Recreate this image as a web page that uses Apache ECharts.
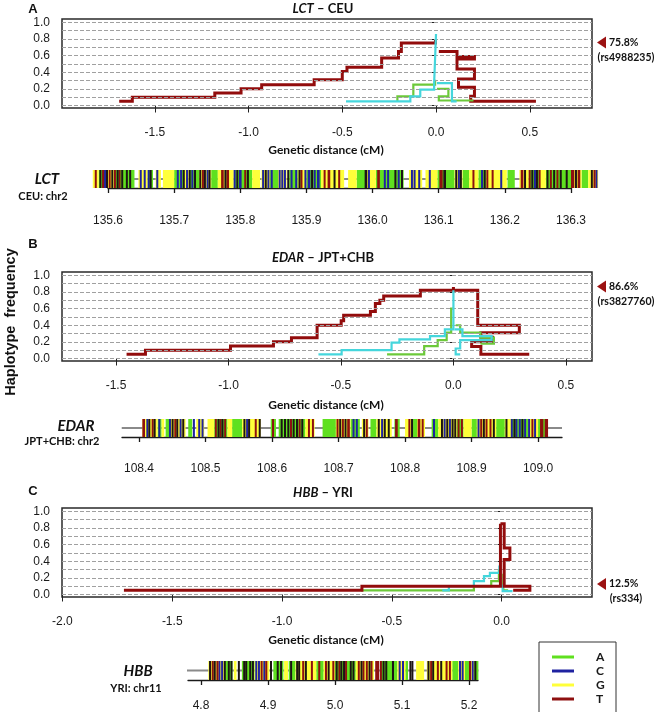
<!DOCTYPE html>
<html><head><meta charset="utf-8">
<script src="https://cdn.jsdelivr.net/npm/echarts@6/dist/echarts.min.js"></script>
<style>html,body{margin:0;padding:0;background:#fff}#c{width:655px;height:712px}</style>
</head><body><div id="c"></div><script>
// ---------- axis ticks ----------
const gridLines = [0,0.1,0.2,0.3,0.4,0.5,0.6,0.7,0.8,0.9,1.0];
const freqTicks = [0,0.2,0.4,0.6,0.8,1.0];
const distTicksA = [-1.5,-1.0,-0.5,0.0,0.5];
const distTicksB = [-1.5,-1.0,-0.5,0.0,0.5];
const distTicksC = [-2.0,-1.5,-1.0,-0.5,0.0];
const posTicksA = [135.6,135.7,135.8,135.9,136.0,136.1,136.2,136.3];
const posTicksB = [108.4,108.5,108.6,108.7,108.8,108.9,109.0];
const posTicksC = [4.8,4.9,5.0,5.1,5.2];

// ---------- panel titles / annotations ----------
const panelLetters = ['A','B','C'];
const geneNames = ['LCT','EDAR','HBB'];
const popNames = ['CEU','JPT+CHB','YRI'];
const chromLabels = ['CEU: chr2','JPT+CHB: chr2','YRI: chr11'];
const coreFreq = [0.758, 0.866, 0.125];
const coreFreqText = ['75.8%','86.6%','12.5%'];
const coreSnp = ['(rs4988235)','(rs3827760)','(rs334)'];
const legendAlleles = ['A','C','G','T'];

// ---------- haplotype frequency step paths (x: cM, y: frequency) ----------
const lctT_left = [[-1.69,0.05],[-1.62,0.05],[-1.62,0.10],[-1.18,0.10],[-1.18,0.15],[-1.04,0.15],[-1.04,0.20],[-0.93,0.20],[-0.93,0.25],[-0.65,0.25],[-0.65,0.31],[-0.50,0.31],[-0.50,0.41],[-0.475,0.41],[-0.475,0.46],[-0.29,0.46],[-0.29,0.57],[-0.20,0.57],[-0.20,0.65],[-0.185,0.65],[-0.185,0.75],[-0.003,0.75],[-0.003,0.79]];
const lctT_right = [[0.015,0.65],[0.112,0.65],[0.112,0.59],[0.205,0.59],[0.205,0.56],[0.112,0.56],[0.112,0.44],[0.205,0.44],[0.205,0.32],[0.12,0.32],[0.12,0.22],[0.205,0.22],[0.205,0.11],[0.185,0.11],[0.185,0.05],[0.533,0.05]];
const lctA_left = [[-0.206,0.05],[-0.206,0.11],[-0.121,0.11],[-0.121,0.25],[-0.005,0.25],[-0.005,0.31]];
const lctA_right = [[0.005,0.20],[0.066,0.20],[0.066,0.11],[0.015,0.11],[0.015,0.06],[0.20,0.06]];
const lctC_left = [[-0.48,0.05],[-0.137,0.05],[-0.137,0.11],[-0.084,0.11],[-0.084,0.19],[-0.01,0.19],[-0.01,0.27],[0.0,0.27],[0.0,0.86]];
const lctC_right = [[0.005,0.27],[0.085,0.27],[0.085,0.05],[0.11,0.05]];

const edarT_left = [[-1.453,0.05],[-1.369,0.05],[-1.369,0.10],[-0.991,0.10],[-0.991,0.15],[-0.80,0.15],[-0.80,0.20],[-0.72,0.20],[-0.72,0.25],[-0.606,0.25],[-0.606,0.40],[-0.499,0.40],[-0.499,0.455],[-0.488,0.455],[-0.488,0.52],[-0.369,0.52],[-0.369,0.565],[-0.347,0.565],[-0.347,0.66],[-0.327,0.66],[-0.327,0.70],[-0.31,0.70],[-0.31,0.75],[-0.147,0.75],[-0.147,0.82],[0.0,0.82],[0.0,0.86]];
const edarT_right = [[0.0,0.82],[0.108,0.82],[0.108,0.40],[0.293,0.40],[0.293,0.31],[0.122,0.31],[0.122,0.255],[0.174,0.255],[0.174,0.20],[0.081,0.20],[0.081,0.145],[0.122,0.145],[0.122,0.05],[0.337,0.05]];
const edarA_left = [[-0.295,0.05],[-0.13,0.05],[-0.13,0.15],[-0.07,0.15],[-0.07,0.22],[-0.03,0.22],[-0.03,0.31],[-0.01,0.31],[-0.01,0.60],[0.0,0.60]];
const edarA_right = [[0.01,0.40],[0.03,0.40],[0.03,0.31],[0.12,0.31],[0.12,0.25],[0.18,0.25],[0.18,0.18],[0.12,0.18]];
const edarC_left = [[-0.60,0.05],[-0.497,0.05],[-0.497,0.10],[-0.275,0.10],[-0.275,0.19],[-0.24,0.19],[-0.24,0.23],[-0.104,0.23],[-0.104,0.27],[-0.038,0.27],[-0.038,0.35],[0.0,0.35],[0.0,0.82]];
const edarC_right = [[0.005,0.35],[0.04,0.35],[0.04,0.27],[0.17,0.27],[0.17,0.22],[0.03,0.22],[0.03,0.12],[0.01,0.12],[0.01,0.05],[0.03,0.05]];

const hbbT_left = [[-1.72,0.05],[-0.636,0.05],[-0.636,0.10],[-0.005,0.10],[-0.005,0.85]];
const hbbT_right = [[-0.005,0.85],[0.012,0.85],[0.012,0.56],[0.038,0.56],[0.038,0.42],[0.012,0.42],[0.012,0.10],[0.129,0.10],[0.129,0.05],[0.053,0.05]];
const hbbA_left = [[-0.64,0.05],[-0.126,0.05],[-0.126,0.10],[-0.047,0.10],[-0.047,0.16],[-0.012,0.16],[-0.012,0.30]];
const hbbA_right = [[0.008,0.25],[0.008,0.05],[0.03,0.05]];
const hbbC_left = [[-0.27,0.05],[-0.24,0.05],[-0.24,0.10],[-0.126,0.10],[-0.126,0.16],[-0.08,0.16],[-0.08,0.22],[-0.053,0.22],[-0.053,0.26],[-0.01,0.26],[-0.01,0.35]];
const hbbC_right = [[0.005,0.12],[0.005,0.04],[0.05,0.04]];

// ---------- haplotype bars: [allele, startMb, endMb] ----------
const lctSpan = [135.548, 136.373];
const lctLight = [['G',135.577,135.586],['A',135.586,135.600],['G',135.600,135.612],['A',135.612,135.640],['G',135.646,135.660],['A',135.660,135.668],['G',135.672,135.680],['G',135.683,135.700],['A',135.700,135.716],['G',135.716,135.722],['A',135.722,135.738],['G',135.738,135.756],['A',135.756,135.766],['G',135.766,135.790],['A',135.790,135.818],['G',135.818,135.830],['G',135.832,135.845],['A',135.845,135.857],['G',135.857,135.870],['A',135.874,135.887],['G',135.887,135.900],['A',135.900,135.922],['G',135.922,135.957],['G',135.963,135.976],['A',135.976,135.990],['G',135.990,136.005],['A',136.005,136.047],['G',136.055,136.075],['G',136.080,136.098],['A',136.098,136.124],['G',136.124,136.136],['A',136.136,136.146],['G',136.146,136.160],['A',136.160,136.172],['G',136.172,136.203],['A',136.204,136.215],['G',136.222,136.236],['A',136.236,136.253],['G',136.253,136.262],['A',136.262,136.300],['G',136.300,136.316],['A',136.316,136.326],['G',136.326,136.341]];
const lctDark = [['T',135.580,135.582],['K',135.587,135.590],['T',135.591,135.593],['C',135.594,135.596],['K',135.597,135.600],['T',135.601,135.604],['K',135.605,135.607],['T',135.609,135.611],['K',135.613,135.615],['T',135.616,135.618],['K',135.620,135.623],['K',135.627,135.629],['K',135.632,135.634],['C',135.648,135.651],['C',135.654,135.657],['C',135.660,135.662],['K',135.663,135.665],['C',135.673,135.676],['C',135.704,135.707],['C',135.709,135.712],['K',135.713,135.715],['C',135.718,135.720],['K',135.722,135.725],['C',135.726,135.729],['K',135.730,135.732],['K',135.738,135.741],['T',135.742,135.744],['K',135.745,135.748],['C',135.749,135.751],['K',135.752,135.755],['T',135.771,135.775],['K',135.776,135.778],['T',135.779,135.783],['C',135.790,135.793],['K',135.794,135.796],['C',135.798,135.802],['T',135.806,135.809],['K',135.810,135.812],['C',135.833,135.836],['K',135.837,135.839],['C',135.841,135.843],['C',135.846,135.849],['C',135.858,135.860],['C',135.862,135.864],['C',135.866,135.868],['K',135.871,135.873],['C',135.876,135.879],['C',135.883,135.885],['K',135.888,135.890],['T',135.891,135.893],['C',135.897,135.899],['C',135.902,135.906],['K',135.907,135.909],['C',135.911,135.914],['C',135.916,135.920],['T',135.926,135.929],['T',135.932,135.936],['K',135.941,135.943],['T',135.948,135.950],['K',135.988,135.992],['C',135.993,135.996],['T',136.007,136.011],['C',136.017,136.020],['C',136.022,136.025],['K',136.033,136.036],['C',136.038,136.041],['K',136.043,136.046],['C',136.058,136.060],['C',136.062,136.064],['C',136.069,136.071],['C',136.085,136.087],['T',136.101,136.106],['K',136.107,136.111],['K',136.125,136.128],['C',136.129,136.131],['K',136.132,136.135],['T',136.151,136.154],['C',136.164,136.166],['K',136.168,136.170],['T',136.172,136.175],['T',136.180,136.183],['C',136.193,136.195],['T',136.224,136.228],['K',136.229,136.231],['T',136.236,136.239],['K',136.240,136.242],['C',136.244,136.246],['K',136.247,136.250],['T',136.251,136.253],['K',136.263,136.266],['T',136.268,136.271],['K',136.273,136.275],['T',136.278,136.281],['K',136.283,136.286],['K',136.292,136.294],['T',136.300,136.305],['K',136.306,136.309],['T',136.310,136.314],['K',136.330,136.332],['T',136.334,136.336],['C',136.337,136.339]];

const edarSpan = [108.374, 109.036];
const edarLight = [['G',108.405,108.428],['A',108.428,108.434],['G',108.434,108.438],['A',108.440,108.448],['G',108.448,108.470],['A',108.474,108.480],['G',108.486,108.498],['G',108.503,108.513],['A',108.513,108.533],['G',108.533,108.540],['A',108.540,108.555],['G',108.555,108.583],['A',108.598,108.606],['A',108.610,108.650],['G',108.650,108.664],['A',108.676,108.696],['G',108.696,108.718],['A',108.718,108.732],['G',108.735,108.745],['A',108.748,108.757],['G',108.757,108.780],['A',108.784,108.792],['G',108.800,108.812],['A',108.812,108.818],['G',108.818,108.830],['A',108.840,108.850],['G',108.850,108.878],['A',108.878,108.888],['G',108.888,108.900],['A',108.900,108.908],['G',108.908,108.937],['A',108.937,108.950],['G',108.950,108.960],['A',108.960,108.985],['G',108.985,109.000],['A',109.000,109.015]];
const edarDark = [['T',108.405,108.409],['C',108.411,108.413],['K',108.414,108.416],['T',108.419,108.421],['K',108.422,108.424],['C',108.429,108.431],['C',108.445,108.447],['K',108.449,108.452],['T',108.453,108.455],['K',108.456,108.459],['C',108.461,108.463],['K',108.465,108.468],['C',108.481,108.483],['C',108.489,108.491],['C',108.494,108.496],['T',108.514,108.517],['K',108.518,108.520],['T',108.521,108.523],['K',108.524,108.527],['T',108.528,108.531],['K',108.557,108.559],['C',108.561,108.563],['K',108.564,108.566],['T',108.574,108.577],['K',108.580,108.582],['T',108.600,108.603],['K',108.613,108.615],['K',108.618,108.620],['K',108.623,108.626],['T',108.627,108.629],['K',108.631,108.634],['K',108.636,108.638],['T',108.640,108.642],['K',108.644,108.647],['T',108.654,108.657],['T',108.660,108.662],['T',108.697,108.700],['K',108.701,108.704],['T',108.705,108.708],['K',108.709,108.711],['T',108.713,108.717],['C',108.721,108.723],['C',108.726,108.729],['K',108.737,108.739],['T',108.741,108.743],['K',108.759,108.762],['C',108.764,108.766],['K',108.768,108.771],['K',108.774,108.777],['T',108.785,108.789],['T',108.805,108.807],['K',108.809,108.811],['T',108.819,108.823],['T',108.825,108.828],['C',108.842,108.845],['K',108.854,108.857],['C',108.858,108.860],['K',108.862,108.865],['C',108.866,108.868],['K',108.870,108.873],['K',108.874,108.877],['T',108.879,108.882],['T',108.884,108.887],['C',108.909,108.911],['T',108.913,108.915],['K',108.917,108.919],['T',108.921,108.924],['T',108.927,108.930],['K',108.932,108.935],['K',108.951,108.954],['C',108.959,108.962],['K',108.963,108.965],['C',108.966,108.969],['C',108.971,108.974],['K',108.975,108.977],['C',108.979,108.982],['C',108.985,108.988],['T',108.990,108.993],['C',108.994,108.997],['T',109.003,109.008],['T',109.010,109.015]];

const hbbSpan = [4.779, 5.214];
const hbbLight = [['G',4.811,4.835],['A',4.835,4.847],['G',4.849,4.853],['A',4.861,4.880],['G',4.880,4.902],['A',4.908,4.923],['G',4.924,4.930],['A',4.931,4.941],['G',4.941,4.972],['A',4.972,4.983],['G',4.983,5.000],['A',5.000,5.031],['G',5.031,5.058],['A',5.068,5.093],['G',5.093,5.105],['A',5.105,5.109],['G',5.121,5.133],['G',5.137,5.175],['A',5.175,5.184],['G',5.184,5.194],['A',5.194,5.200],['G',5.200,5.207],['A',5.207,5.214]];
const hbbDark = [['K',4.812,4.815],['T',4.816,4.818],['K',4.819,4.822],['T',4.823,4.825],['C',4.826,4.829],['C',4.830,4.832],['K',4.834,4.836],['K',4.840,4.842],['K',4.844,4.846],['K',4.855,4.858],['K',4.863,4.865],['K',4.866,4.868],['K',4.872,4.874],['K',4.876,4.878],['C',4.881,4.884],['C',4.885,4.887],['T',4.889,4.892],['C',4.893,4.895],['T',4.896,4.899],['K',4.903,4.906],['K',4.913,4.915],['K',4.918,4.920],['K',4.933,4.935],['K',4.942,4.944],['K',4.945,4.948],['T',4.951,4.954],['K',4.955,4.958],['T',4.964,4.967],['T',4.975,4.977],['T',4.985,4.988],['K',4.989,4.991],['T',4.996,4.999],['K',5.001,5.004],['T',5.005,5.007],['K',5.008,5.011],['K',5.012,5.014],['T',5.015,5.017],['K',5.022,5.024],['K',5.026,5.028],['T',5.034,5.037],['K',5.038,5.040],['T',5.041,5.044],['T',5.046,5.049],['K',5.050,5.052],['T',5.053,5.055],['T',5.060,5.066],['T',5.067,5.069],['K',5.071,5.073],['K',5.075,5.078],['K',5.085,5.088],['C',5.095,5.098],['C',5.100,5.103],['K',5.111,5.113],['K',5.114,5.116],['K',5.138,5.141],['T',5.142,5.144],['K',5.145,5.148],['T',5.152,5.155],['K',5.157,5.160],['T',5.165,5.168],['T',5.170,5.172],['C',5.185,5.188],['C',5.189,5.191],['T',5.200,5.203],['C',5.204,5.206],['K',5.208,5.210]];

// ---------- styling ----------
const alleleColors = {A:'#5fe01f', C:'#1f22a0', G:'#ffff3a', T:'#8e1010', K:'#1c1414'};
const lineRed = '#920c0c', lineGreen = '#6cc93a', lineCyan = '#45d6dc';
const SANS = 'Liberation Sans, Arial, sans-serif';
const CAL = 'Lato, Open Sans, sans-serif';

const chart = echarts.init(document.getElementById('c'), null, {renderer:'canvas'});

const plotGrids = [
  {left:62, top:19, width:530, height:89, xmin:-1.995, xmax:0.832, ticks:distTicksA},
  {left:62, top:272, width:530, height:89, xmin:-1.74, xmax:0.616, ticks:distTicksB},
  {left:62, top:508, width:530, height:89, xmin:-2.002, xmax:0.412, ticks:distTicksC}
];
const barGrids = [
  {left:108, top:170, width:463, height:18, xmin:135.6, xmax:136.3, ticks:posTicksA, offset:11, margin:16},
  {left:122, top:419, width:440, height:18, xmin:108.3744, xmax:109.036, ticks:posTicksB, offset:10, margin:16},
  {left:188, top:661, width:290, height:20, xmin:4.7806, xmax:5.2134, ticks:posTicksC, offset:11, margin:9}
];

const grid = [], xAxis = [], yAxis = [], series = [];
plotGrids.forEach((g,i)=>{
  grid.push({left:g.left, top:g.top, width:g.width, height:g.height, show:true, borderColor:'#2a2a2a', borderWidth:1.5, backgroundColor:'transparent'});
  xAxis.push({type:'value', gridIndex:i, min:g.xmin, max:g.xmax, axisLine:{show:false}, splitLine:{show:false},
    axisTick:{show:true, length:7, customValues:g.ticks, lineStyle:{color:'#222', width:1}},
    axisLabel:{customValues:g.ticks, formatter:v=>v.toFixed(1), fontSize:12, fontFamily:SANS, color:'#1a1a1a', margin:19}});
  yAxis.push({type:'value', gridIndex:i, min:-0.03, max:1.04, axisLine:{show:false}, splitLine:{show:false},
    axisTick:{show:true, length:6, customValues:freqTicks, lineStyle:{color:'#222', width:1}},
    axisLabel:{customValues:freqTicks, formatter:v=>v.toFixed(1), fontSize:12, fontFamily:SANS, color:'#1a1a1a', margin:12}});
});
barGrids.forEach((g,j)=>{
  const i = j+3;
  grid.push({left:g.left, top:g.top, width:g.width, height:g.height, show:false});
  xAxis.push({type:'value', gridIndex:i, min:g.xmin, max:g.xmax, position:'bottom', offset:g.offset,
    axisLine:{show:true, lineStyle:{color:'#1a1a1a', width:1.3}}, splitLine:{show:false},
    axisTick:{show:true, length:5, customValues:g.ticks, lineStyle:{color:'#1a1a1a', width:1.3}},
    axisLabel:{customValues:g.ticks, formatter:v=>v.toFixed(1), fontSize:12, fontFamily:SANS, color:'#1a1a1a', margin:g.margin}});
  yAxis.push({type:'value', gridIndex:i, min:0, max:1, show:false});
});

function step(data, color, width, gi, z, withGrid){
  const s = {type:'line', xAxisIndex:gi, yAxisIndex:gi, data:data, symbol:'none', silent:true, animation:false, z:z,
    lineStyle:{color:color, width:width, join:'miter'}, itemStyle:{color:color}};
  if (withGrid) s.markLine = {silent:true, symbol:'none', animation:false, label:{show:false},
    lineStyle:{type:[4,2], color:'#a0a0a0', width:1}, data:gridLines.map(v=>({yAxis:v}))};
  return s;
}
const panels = [
  [lctT_left,lctT_right,lctA_left,lctA_right,lctC_left,lctC_right],
  [edarT_left,edarT_right,edarA_left,edarA_right,edarC_left,edarC_right],
  [hbbT_left,hbbT_right,hbbA_left,hbbA_right,hbbC_left,hbbC_right]
];
panels.forEach((p,i)=>{
  const redZ = i===2 ? 6 : 3;
  series.push(step(p[0], lineRed, 3, i, redZ, true));
  series.push(step(p[1], lineRed, 3, i, redZ, false));
  series.push(step(p[2], lineGreen, 2.2, i, 4, false));
  series.push(step(p[3], lineGreen, 2.2, i, 4, false));
  series.push(step(p[4], lineCyan, 2.2, i, 5, false));
  series.push(step(p[5], lineCyan, 2.2, i, 5, false));
});

function renderStripe(params, api){
  const s = api.coord([api.value(0), 1]);
  const e = api.coord([api.value(1), 0]);
  return {type:'rect', shape:{x:s[0], y:s[1], width:Math.max(e[0]-s[0], 2), height:e[1]-s[1]}, style:{fill:api.visual('color')}};
}
const bars = [[lctSpan,lctLight,lctDark],[edarSpan,edarLight,edarDark],[hbbSpan,hbbLight,hbbDark]];
bars.forEach((b,j)=>{
  const gi = j+3;
  series.push({type:'line', xAxisIndex:gi, yAxisIndex:gi, data:[[b[0][0],0.5],[b[0][1],0.5]], symbol:'none', clip:false, silent:true, z:1,
    lineStyle:{color:'#8a8a8a', width:2}});
  [[b[1],2],[b[2],3]].forEach(([list,z])=>{
    ['A','C','G','T','K'].forEach(code=>{
      const d = list.filter(s=>s[0]===code).map(s=>[s[1],s[2]]);
      if (!d.length) return;
      series.push({type:'custom', name: code==='K' ? 'other' : code, xAxisIndex:gi, yAxisIndex:gi, data:d, renderItem:renderStripe,
        encode:{x:[0,1]}, clip:false, silent:true, z:z, itemStyle:{color:alleleColors[code]}});
    });
  });
});

const option = {
  animation:false,
  backgroundColor:'#ffffff',
  grid, xAxis, yAxis, series,
  legend:{data:legendAlleles, orient:'vertical', left:539, top:642, selectedMode:false,
    padding:[9,10,0,13], itemGap:2, itemWidth:22, itemHeight:3, icon:'rect',
    borderWidth:0, backgroundColor:'transparent',
    textStyle:{fontSize:12, fontWeight:'bold', fontFamily:CAL, color:'#1a1a1a', padding:[0,0,0,17], lineHeight:12}}
};
chart.setOption(option);

// ---------- text & annotations ----------
const gfx = [];
function txt(x,y,text,font,align,extra){
  return {type:'text', x:x, y:y, silent:true, style:Object.assign({text:text, font:font, fill:'#111', align:align||'center', verticalAlign:'middle', textAlign:align||'center', textVerticalAlign:'middle'}, extra||{})};
}
const letterY = [9, 244, 491];
const titleY = [9, 258, 493];
const distY = [150, 405, 640];
panelLetters.forEach((L,i)=>{
  gfx.push(txt(33, letterY[i], L, 'bold 13px '+SANS));
  gfx.push(txt(323, titleY[i], '{i|'+geneNames[i]+'} – '+popNames[i], 'bold 13px '+CAL, 'center',
    {rich:{i:{fontStyle:'italic', fontWeight:'bold', fontSize:13, fontFamily:CAL, fill:'#111'}}}));
  gfx.push(txt(326, distY[i], 'Genetic distance (cM)', 'bold 12px '+CAL));
  const y = chart.convertToPixel({yAxisIndex:i}, coreFreq[i]);
  gfx.push({type:'polygon', silent:true, shape:{points:[[597,y],[606,y-6],[606,y+6]]}, style:{fill:'#9c1212'}});
  gfx.push(txt(609, y, coreFreqText[i], 'bold 10.5px '+CAL, 'left'));
  gfx.push(txt(626, y+15, coreSnp[i], 'bold 10.5px '+CAL, 'center'));
});
const geneXY = [[47,179],[76,426],[138,671]];
const chromXY = [[43,196],[62,441],[136,688]];
geneNames.forEach((g,i)=>{
  gfx.push(txt(geneXY[i][0], geneXY[i][1], g, 'italic bold 15px '+CAL));
  gfx.push(txt(chromXY[i][0], chromXY[i][1], chromLabels[i], 'bold 11px '+CAL));
});
gfx.push({type:'text', x:11, y:322, rotation:Math.PI/2, silent:true,
  style:{text:'Haplotype  frequency', font:'bold 14.5px '+SANS, fill:'#111', align:'center', verticalAlign:'middle', textAlign:'center', textVerticalAlign:'middle'}});
// legend frame (open at the bottom edge of the picture)
gfx.push({type:'rect', silent:true, shape:{x:539, y:642, width:77, height:80}, style:{fill:'none', stroke:'#333', lineWidth:1}});
chart.setOption({graphic:{elements:gfx}});
</script></body></html>
